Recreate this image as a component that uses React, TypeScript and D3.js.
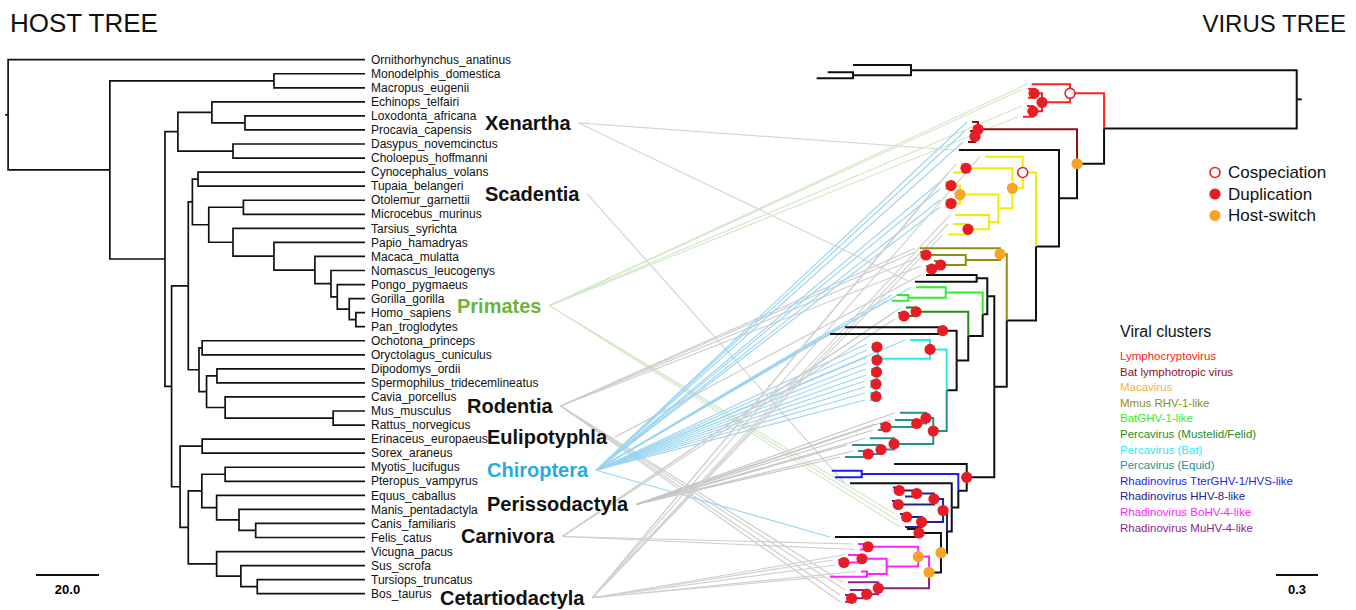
import { useEffect, useRef } from 'react'
import * as d3 from 'd3'

// host leaves, top to bottom
const hostLeaves = [
  'Ornithorhynchus_anatinus', 'Monodelphis_domestica', 'Macropus_eugenii', 'Echinops_telfairi',
  'Loxodonta_africana', 'Procavia_capensis', 'Dasypus_novemcinctus', 'Choloepus_hoffmanni',
  'Cynocephalus_volans', 'Tupaia_belangeri', 'Otolemur_garnettii', 'Microcebus_murinus',
  'Tarsius_syrichta', 'Papio_hamadryas', 'Macaca_mulatta', 'Nomascus_leucogenys',
  'Pongo_pygmaeus', 'Gorilla_gorilla', 'Homo_sapiens', 'Pan_troglodytes',
  'Ochotona_princeps', 'Oryctolagus_cuniculus', 'Dipodomys_ordii', 'Spermophilus_tridecemlineatus',
  'Cavia_porcellus', 'Mus_musculus', 'Rattus_norvegicus', 'Erinaceus_europaeus',
  'Sorex_araneus', 'Myotis_lucifugus', 'Pteropus_vampyrus', 'Equus_caballus',
  'Manis_pentadactyla', 'Canis_familiaris', 'Felis_catus', 'Vicugna_pacus',
  'Sus_scrofa', 'Tursiops_truncatus', 'Bos_taurus',
]

// host time tree: [node age, ...children]
const hostTree: any = [113.3,
  'Ornithorhynchus_anatinus',
  [81.0,
    [28.9, 'Monodelphis_domestica', 'Macropus_eugenii'],
    [63.5,
      [59.4,
        [48.6, 'Echinops_telfairi', [38.1, 'Loxodonta_africana', 'Procavia_capensis']],
        [41.9, 'Dasypus_novemcinctus', 'Choloepus_hoffmanni']],
      [61.4,
        [56.1,
          [54.8,
            [53.0, 'Cynocephalus_volans', 'Tupaia_belangeri'],
            [49.6,
              [38.6, 'Otolemur_garnettii', 'Microcebus_murinus'],
              [41.9, 'Tarsius_syrichta',
                [28.9, 'Papio_hamadryas',
                  [15.9, 'Macaca_mulatta',
                    [10.8, 'Nomascus_leucogenys',
                      [8.8, 'Pongo_pygmaeus',
                        [5.0, 'Gorilla_gorilla', [2.9, 'Homo_sapiens', 'Pan_troglodytes']]]]]]]]],
          [52.7,
            [51.7, 'Ochotona_princeps', 'Oryctolagus_cuniculus'],
            [50.3,
              [47.0, 'Dipodomys_ordii', 'Spermophilus_tridecemlineatus'],
              [44.4, 'Cavia_porcellus', [10.1, 'Mus_musculus', 'Rattus_norvegicus']]]]],
        [58.7,
          [51.7, 'Erinaceus_europaeus', 'Sorex_araneus'],
          [56.1,
            [51.8,
              [44.4, 'Myotis_lucifugus', 'Pteropus_vampyrus'],
              [47.1, 'Equus_caballus', [40.0, 'Manis_pentadactyla', [34.7, 'Canis_familiaris', 'Felis_catus']]]],
            [47.1, 'Vicugna_pacus', [39.4, 'Sus_scrofa', [34.2, 'Tursiops_truncatus', 'Bos_taurus']]]]]]]]]

// virus tree: N(distance from root, event, cluster, ...children), T(distance, tip slot)
const N = (d: number, ev: string, clade: string | null, ...kids: any[]) => ({ d, ev, clade, kids })
const T = (d: number, y: number) => ({ d, y })

const virusTree = N(0, '', 'k',
  N(2.755, '', null,
    T(3.169, 5),
    N(3.169, '', null, T(3.35, 12.3), T(3.429, 18.3))),
  N(1.376, '', null,
    N(1.619, 'cos', 'lcv',
      T(1.893, 24.3),
      N(1.819, 'dup', null,
        N(1.876, 'dup', null, T(1.919, 29), T(1.919, 37.7)),
        N(1.884, 'dup', null, T(1.926, 46), T(1.955, 56.7)))),
    N(1.569, 'hs', 'k',
      N(2.276, 'dup', 'blv',
        T(2.319, 62),
        N(2.298, 'dup', null, T(2.334, 71), T(2.348, 82))),
      N(1.698, '', null,
        T(2.412, 90),
        N(1.862, '', null,
          N(1.957, 'cos', 'mac',
            T(2.226, 96.7),
            N(2.031, 'hs', null,
              N(2.362, 'dup', null, T(2.398, 104), T(2.455, 112.5)),
              N(2.131, '', null,
                N(2.405, 'hs', null,
                  N(2.469, 'dup', null, T(2.512, 122), T(2.512, 129)),
                  N(2.469, 'dup', null, T(2.512, 140), T(2.512, 147))),
                N(2.198, '', null,
                  T(2.441, 155),
                  N(2.348, 'dup', null, T(2.455, 164), T(2.491, 174.6)))))),
          N(2.071, '', null,
            N(2.119, 'hs', 'rhv1',
              T(2.691, 188.3),
              N(2.364, '', null,
                N(2.648, 'dup', null, T(2.691, 192), T(2.676, 198)),
                N(2.543, 'dup', null,
                  T(2.591, 201),
                  N(2.607, 'dup', null, T(2.648, 206), T(2.634, 212))))),
            N(2.16, '', null,
              N(2.21, '', null,
                N(2.286, '', null, T(2.648, 215), T(2.726, 221.7)),
                N(2.243, '', null,
                  N(2.507, '', 'bgv',
                    T(2.719, 227.3),
                    N(2.774, '', null, T(2.857, 235), T(2.893, 240.7))),
                  N(2.346, '', null,
                    N(2.719, 'dup', 'pmf',
                      T(2.791, 247.5),
                      N(2.805, 'dup', null, T(2.848, 253), T(2.834, 259))),
                    N(2.429, '', null,
                      N(2.529, 'dup', null, T(3.226, 267.3), T(3.334, 274)),
                      N(2.5, '', null,
                        N(2.619, 'dup', 'pbat',
                          T(2.762, 280),
                          N(2.991, '', null,
                            N(2.998, 'dup', null, T(3.034, 284), T(3.034, 290)),
                            N(2.994, '', null,
                              N(2.998, 'dup', null, T(3.034, 297), T(3.034, 303)),
                              N(3.001, '', null,
                                N(3.001, 'dup', null, T(3.041, 309), T(3.041, 315)),
                                N(3.005, '', null,
                                  N(3.005, 'dup', null, T(3.048, 321), T(3.048, 327)),
                                  N(3.005, 'dup', null, T(3.048, 333), T(3.048, 340))))))),
                        N(2.596, 'dup', 'peq',
                          N(2.648, 'dup', null,
                            T(2.834, 352.7),
                            N(2.714, 'dup', null,
                              T(2.869, 360),
                              N(2.934, 'dup', null, T(2.976, 364), T(2.991, 370)))),
                          N(2.876, 'dup', null,
                            T(3.048, 378.3),
                            N(2.969, 'dup', null,
                              T(3.176, 385),
                              N(3.06, 'dup', null, T(3.134, 391), T(3.226, 397)))))))))),
              N(2.357, 'dup', null,
                T(2.876, 404),
                N(2.417, '', null,
                  N(3.107, '', 'tter', T(3.321, 410.7), T(3.298, 417.3)),
                  N(2.464, '', null,
                    T(3.191, 423.3),
                    N(2.498, '', null,
                      N(2.526, 'dup', 'hhv8',
                        N(2.591, 'dup', null,
                          N(2.714, 'dup', null,
                            N(2.839, 'dup', null, T(2.884, 427.5), T(2.862, 433.5)),
                            T(2.798, 436.5)),
                          N(2.846, 'dup', null, T(2.891, 441), T(2.855, 448))),
                        N(2.679, 'dup', null,
                          N(2.786, 'dup', null, T(2.834, 454), T(2.819, 460)),
                          T(2.798, 467))),
                      N(2.541, 'hs', null,
                        N(2.698, 'dup', null, T(2.784, 469), T(3.298, 477)),
                        N(2.626, 'hs', null,
                          N(2.703, 'hs', 'bohv4',
                            N(3.062, 'dup', null, T(3.134, 484), T(3.119, 489.5)),
                            N(2.929, '', null,
                              N(3.105, 'dup', null,
                                T(3.205, 495),
                                N(3.234, 'dup', null, T(3.276, 500), T(3.262, 505))),
                              N(3.069, '', null, T(3.112, 511.5), T(3.334, 516.7)))),
                          N(2.989, 'dup', 'muhv4',
                            T(3.205, 522.3),
                            N(3.071, 'dup', null,
                              T(3.191, 530),
                              N(3.179, 'dup', null, T(3.226, 535), T(3.226, 541.7)))))))))))))))))

const clusterKeys = ['lcv', 'blv', 'mac', 'rhv1', 'bgv', 'pmf', 'pbat', 'peq', 'tter', 'hhv8', 'bohv4', 'muhv4']
const clusterNames = [
  'Lymphocryptovirus', 'Bat lymphotropic virus', 'Macavirus', 'Mmus RHV-1-like', 'BatGHV-1-like',
  'Percavirus (Mustelid/Felid)', 'Percavirus (Bat)', 'Percavirus (Equid)', 'Rhadinovirus TterGHV-1/HVS-like',
  'Rhadinovirus HHV-8-like', 'Rhadinovirus BoHV-4-like', 'Rhadinovirus MuHV-4-like',
]

const eventKeys = ['cos', 'dup', 'hs']
const eventNames = ['Cospeciation', 'Duplication', 'Host-switch']

// host groups and the host leaves they sit beside
const groupNames = ['Xenartha', 'Scadentia', 'Primates', 'Rodentia', 'Eulipotyphla', 'Chiroptera', 'Perissodactyla', 'Carnivora', 'Cetartiodactyla']
const groupLeaves = [
  ['Loxodonta_africana', 'Procavia_capensis'], ['Tupaia_belangeri', 'Otolemur_garnettii'],
  ['Gorilla_gorilla', 'Homo_sapiens'], ['Cavia_porcellus', 'Mus_musculus'], ['Erinaceus_europaeus'],
  ['Myotis_lucifugus'], ['Equus_caballus', 'Manis_pentadactyla'], ['Felis_catus'], ['Bos_taurus'],
]
// virus tips (slot) linked to each host group
const groupLinks = [
  [90, 221.7],
  [423.3],
  [24.3, 29, 46, 56.7, 454, 460, 467],
  [188.3, 192, 198, 206, 522.3, 530, 535, 541.7],
  [215],
  [62, 71, 82, 122, 129, 140, 147, 227.3, 235, 240.7, 267.3, 274, 280, 284, 290, 297, 303, 309, 315, 321, 327, 333, 340, 477],
  [352.7, 360, 364, 370, 378.3, 385, 391, 397],
  [247.5, 253, 259, 484, 489.5],
  [96.7, 104, 112.5, 155, 164, 174.6, 495, 500, 505, 511.5, 516.7],
]

const FONT = '"Liberation Sans", Arial, sans-serif'
const clusterColor: any = {
  k: '#111', lcv: '#ff2020', blv: '#8e1010', mac: '#f4ec00', rhv1: '#8e8e14', bgv: '#2cf02c',
  pmf: '#1f8c1f', pbat: '#22eef4', peq: '#229292', tter: '#1e1ef2', hhv8: '#22228c',
  bohv4: '#ff22ff', muhv4: '#8c1f8c',
}
const legendColor: any = { ...clusterColor, mac: '#f7b23e' }
const groupX = [485, 485, 457, 467, 487, 487, 487, 461, 440]
const groupDy = [0, 1, 0, 2, -2, 3, 2, -1, 4]
const groupColor = ['#111', '#111', '#6cb33f', '#111', '#111', '#29abe2', '#111', '#111', '#111']
const linkColor = ['#d6d6d6', '#d2d2d2', '#d2e8c6', '#cdcdcd', '#cdcdcd', '#9bd5f0', '#c6c6c6', '#cdcdcd', '#d0d0d0']

export default function App() {
  const ref = useRef<SVGSVGElement>(null)

  useEffect(() => {
    const svg = d3.select(ref.current)
    svg.selectAll('*').remove()

    const xH = d3.scaleLinear().domain([0, 20]).range([365, 302])
    const yH = d3.scaleLinear().domain([0, hostLeaves.length - 1]).range([59.7, 593.7])
    const xV = d3.scaleLinear().domain([0, 0.3]).range([1296.7, 1254.7])
    const yV = d3.scaleLinear().domain([0, 540]).range([60, 600])

    const gLinks = svg.append('g').attr('fill', 'none')

    // host tree
    const host: any = d3.hierarchy(hostTree, (d: any) => (Array.isArray(d) ? d.slice(1) : null))
    host.eachAfter((n: any) => {
      n.px = n.children ? xH(n.data[0]) : xH(0)
      n.py = n.children
        ? (n.children[0].py + n.children[n.children.length - 1].py) / 2
        : yH(hostLeaves.indexOf(n.data))
    })
    const gHost = svg.append('g').attr('fill', 'none').attr('stroke', '#111').attr('stroke-width', 1.7)
    host.links().forEach((l: any) => {
      gHost.append('path').attr('d', `M${l.source.px},${l.source.py}V${l.target.py}H${l.target.px}`)
    })
    gHost.append('path').attr('d', `M${host.px - 3},${host.py}H${host.px}`)

    svg.append('g')
      .selectAll('text')
      .data(hostLeaves)
      .join('text')
      .attr('x', xH(0) + 6)
      .attr('y', (_, i) => yH(i))
      .attr('dy', '0.35em')
      .style('font-family', FONT)
      .style('font-size', '12px')
      .style('fill', '#111')
      .text(d => d)

    // virus tree
    const vir: any = d3.hierarchy(virusTree, (d: any) => (d.kids && d.kids.length ? d.kids : null))
    vir.eachAfter((n: any) => {
      n.px = xV(n.data.d)
      n.py = n.children
        ? (n.children[0].py + n.children[n.children.length - 1].py) / 2
        : yV(n.data.y)
    })
    vir.eachBefore((n: any) => {
      n.color = n.data.clade ? clusterColor[n.data.clade] : n.parent.color
    })
    const gVir = svg.append('g').attr('fill', 'none').attr('stroke-width', 2)
    vir.links().forEach((l: any) => {
      gVir.append('path')
        .attr('d', `M${l.source.px},${l.source.py}V${l.target.py}H${l.target.px}`)
        .attr('stroke', l.target.color)
    })
    gVir.append('path').attr('d', `M${vir.px},${vir.py}H${vir.px + 5}`).attr('stroke', '#111')

    const tipAt = new Map<number, any>()
    vir.leaves().forEach((n: any) => tipAt.set(n.data.y, n))

    const drawEvent = (g: any, ev: string, x: number, y: number) => {
      if (ev === 'cos') {
        g.append('circle').attr('cx', x).attr('cy', y).attr('r', 5)
          .attr('fill', '#fff').attr('stroke', '#e8202a').attr('stroke-width', 1.6)
      } else {
        g.append('circle').attr('cx', x).attr('cy', y).attr('r', 5.6)
          .attr('fill', ev === 'dup' ? '#e81c24' : '#f7a325')
      }
    }
    const gEv = svg.append('g')
    vir.descendants().filter((n: any) => n.data.ev).forEach((n: any) => drawEvent(gEv, n.data.ev, n.px, n.py))

    // host group labels and their links
    const gGroups = svg.append('g')
    groupNames.forEach((name, i) => {
      const ys = groupLeaves[i].map(l => yH(hostLeaves.indexOf(l)))
      const y = d3.mean(ys)! + groupDy[i]
      const t = gGroups.append('text')
        .attr('x', groupX[i])
        .attr('y', y)
        .attr('dy', '0.35em')
        .style('font-family', FONT)
        .style('font-size', '20px')
        .style('font-weight', 'bold')
        .style('fill', groupColor[i])
        .text(name)
      const w = (t.node() as SVGTextElement).getComputedTextLength()
      const ax = groupX[i] + w + 8
      groupLinks[i].forEach(slot => {
        const tip = tipAt.get(slot)
        if (!tip) return
        gLinks.append('line')
          .attr('x1', ax).attr('y1', y)
          .attr('x2', tip.px - 5).attr('y2', tip.py)
          .attr('stroke', linkColor[i])
          .attr('stroke-width', 1.15)
      })
    })

    // titles
    svg.append('text').attr('x', 10).attr('y', 32)
      .style('font-family', FONT).style('font-size', '26px').style('fill', '#111').text('HOST TREE')
    svg.append('text').attr('x', 1346).attr('y', 32).attr('text-anchor', 'end')
      .style('font-family', FONT).style('font-size', '24px').style('fill', '#111').text('VIRUS TREE')

    // scale bars
    const sb = svg.append('g').attr('stroke', '#111').attr('stroke-width', 2)
    sb.append('line').attr('x1', 36).attr('x2', 36 + xH(0) - xH(20)).attr('y1', 575).attr('y2', 575)
    sb.append('line').attr('x1', 1276).attr('x2', 1276 + xV(0) - xV(0.3)).attr('y1', 575).attr('y2', 575)
    svg.append('text').attr('x', 36 + (xH(0) - xH(20)) / 2).attr('y', 594).attr('text-anchor', 'middle')
      .style('font-family', FONT).style('font-size', '13px').style('font-weight', 'bold').text('20.0')
    svg.append('text').attr('x', 1276 + (xV(0) - xV(0.3)) / 2).attr('y', 594).attr('text-anchor', 'middle')
      .style('font-family', FONT).style('font-size', '13px').style('font-weight', 'bold').text('0.3')

    // event legend
    const gLeg = svg.append('g')
    eventKeys.forEach((k, i) => {
      const y = 172.5 + i * 21.5
      drawEvent(gLeg, k, 1215, y)
      gLeg.append('text').attr('x', 1228).attr('y', y).attr('dy', '0.35em')
        .style('font-family', FONT).style('font-size', '17px').style('fill', '#111').text(eventNames[i])
    })

    // cluster legend
    gLeg.append('text').attr('x', 1120).attr('y', 331).attr('dy', '0.35em')
      .style('font-family', FONT).style('font-size', '16px').style('fill', '#111').text('Viral clusters')
    clusterKeys.forEach((k, i) => {
      gLeg.append('text').attr('x', 1120).attr('y', 356 + i * 15.6).attr('dy', '0.35em')
        .style('font-family', FONT).style('font-size', '11.5px').style('fill', legendColor[k])
        .text(clusterNames[i])
    })
  }, [])

  return (
    <svg
      ref={ref}
      width={1356}
      height={610}
      style={{ position: 'absolute', left: 0, top: 0, background: '#fff' }}
    />
  )
}
